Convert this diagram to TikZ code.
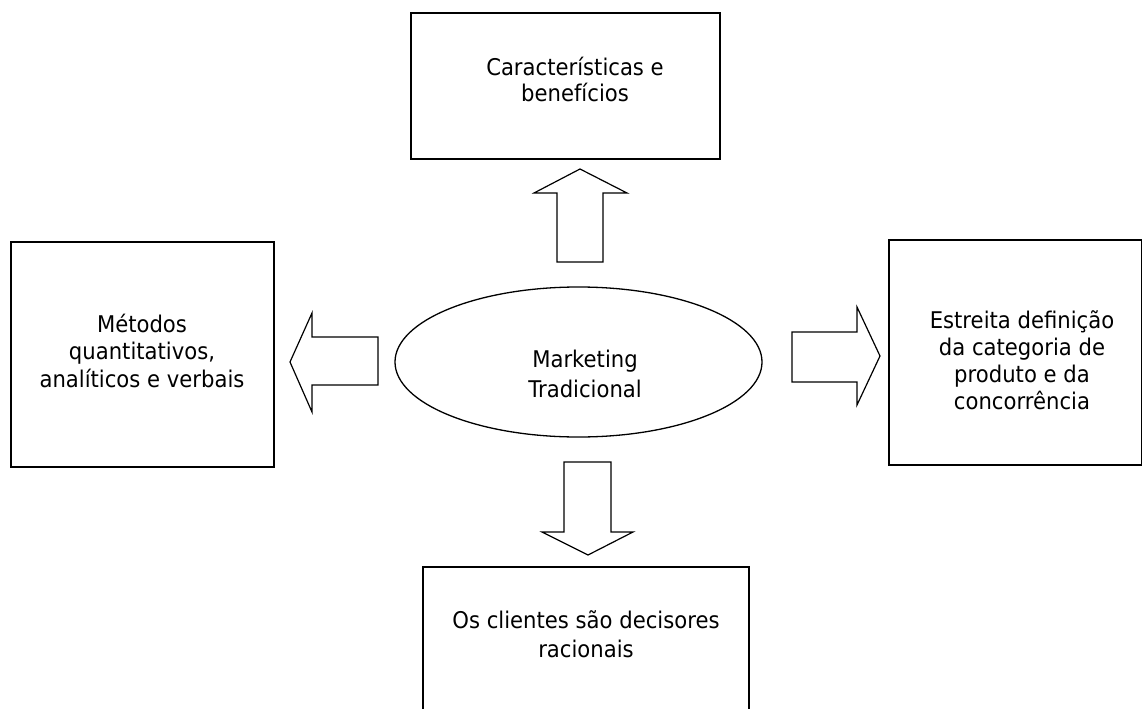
\documentclass[tikz,border=0pt]{standalone}
\usepackage{fontspec}
\setmainfont{DejaVu Sans}[FakeStretch=0.92]
\usetikzlibrary{shapes.geometric}
\begin{document}
\begin{tikzpicture}[x=1pt,y=-1pt,
  boxshape/.style={draw=black,line width=1.5pt,fill=white},
  blockarrow/.style={draw=black,line width=1.2pt,fill=white,line join=miter},
  txt/.style={anchor=base,inner sep=0pt},
]
\useasboundingbox (0,0) rectangle (1143,709);
\clip (0,0) rectangle (1143,709);
% boxes
\draw[boxshape] (411,13) rectangle (720,159);
\draw[boxshape] (11,242) rectangle (274,467);
\draw[boxshape] (889,240) rectangle (1141.5,465);
\draw[boxshape] (423,567) rectangle (749,740);
% ellipse
\node[ellipse,draw=black,line width=1.3pt,minimum width=367,minimum height=150,inner sep=0pt] (core) at (578.5,362) {};
% block arrows
\draw[blockarrow] (580,169) -- (627,193) -- (603,193) -- (603,262) -- (557,262) -- (557,193) -- (534,193) -- cycle;
\draw[blockarrow] (290,362) -- (312,313) -- (312,337) -- (378,337) -- (378,385) -- (312,385) -- (312,412) -- cycle;
\draw[blockarrow] (880,356) -- (857,307) -- (857,332) -- (792,332) -- (792,382) -- (857,382) -- (857,405) -- cycle;
\draw[blockarrow] (588,555) -- (633,532) -- (611,532) -- (611,462) -- (564,462) -- (564,532) -- (542,532) -- cycle;
% texts
\node[txt,font=\fontsize{23}{26}\selectfont] (ttop) at (575,75) {\begin{tabular}[t]{@{}c@{}}Características e\\benefícios\end{tabular}};
\node[txt,font=\fontsize{23}{27.5}\selectfont] (tleft) at (142,332) {\begin{tabular}[t]{@{}c@{}}Métodos\\quantitativos,\\analíticos e verbais\end{tabular}};
\node[txt,font=\fontsize{23}{27.3}\selectfont] (tright) at (1022,328) {\begin{tabular}[t]{@{}c@{}}Estreita definição\\da categoria de\\produto e da\\concorrência\end{tabular}};
\node[txt,font=\fontsize{23}{29}\selectfont] (tbottom) at (586,628) {\begin{tabular}[t]{@{}c@{}}Os clientes são decisores\\racionais\end{tabular}};
\node[txt,font=\fontsize{23}{30}\selectfont] (tcore) at (585,367) {\begin{tabular}[t]{@{}c@{}}Marketing\\Tradicional\end{tabular}};
\end{tikzpicture}
\end{document}
